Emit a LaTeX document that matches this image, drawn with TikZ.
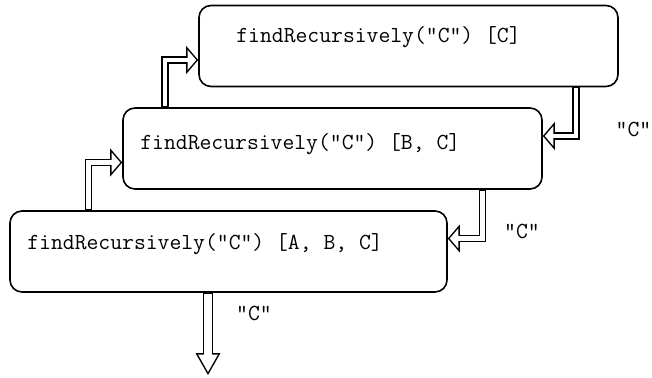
\documentclass[tikz,border=0pt]{standalone}
\usepackage{fontspec}
\usetikzlibrary{arrows.meta,positioning}

\begin{document}
\begin{tikzpicture}[x=1pt,y=-1pt,line join=miter]
	\tikzstyle{call}=[draw=black,line width=1.6pt,rounded corners=12pt,inner sep=0pt,minimum height=81pt]
	\tikzstyle{code}=[inner sep=0pt,anchor=base west,font=\ttfamily\fontsize{23}{27}\selectfont]
	\tikzstyle{ret}=[inner sep=0pt,font=\ttfamily\fontsize{23}{27}\selectfont]
	\tikzstyle{elbow}=[preaction={draw,black,line width=7.5pt,shorten <=0pt,shorten >=0pt,-{Triangle[length=12pt,width=28pt,line width=0pt]}},
	                   preaction={draw,white,line width=4.5pt,shorten <=1pt,shorten >=9pt,arrows=-},
	                   draw,white,line width=4.5pt,shorten <=1pt,shorten >=1.98pt,-{Triangle[length=8.52pt,width=19.88pt,line width=0pt]}]
	\tikzstyle{outarrow}=[preaction={draw,black,line width=10.5pt,shorten <=0pt,shorten >=0pt,-{Triangle[length=22pt,width=25pt,line width=0pt]}},
	                   preaction={draw,white,line width=7.5pt,shorten <=1pt,shorten >=15pt,arrows=-},
	                   draw,white,line width=7.5pt,shorten <=1pt,shorten >=3.04pt,-{Triangle[length=17.46pt,width=19.84pt,line width=0pt]}]

	\useasboundingbox (0,0) rectangle (652,377);

	\node[call,minimum width=419pt] (b3) at (408.5,46)    {};
	\node[call,minimum width=419pt] (b2) at (332.5,148.5) {};
	\node[call,minimum width=437pt] (b1) at (228.5,251.5) {};

	\node[code] (t3) at ([shift={(38,38)}]b3.north west) {findRecursively("C") [C]};
	\node[code] (t2) at ([shift={(18,42)}]b2.north west) {findRecursively("C") [B, C]};
	\node[code] (t1) at ([shift={(18,39)}]b1.north west) {findRecursively("C") [A, B, C]};

	% calls going up
	\draw[elbow] ([xshift=-140pt]b1.north)   |- ([yshift=-14pt]b2.west);
	\draw[elbow] ([xshift=-167.5pt]b2.north) |- ([yshift=-14pt]b3.west);

	% results coming back
	\draw[elbow] ([xshift=167.5pt]b3.south) |- ([yshift=12.5pt]b2.east);
	\draw[elbow] ([xshift=150pt]b2.south)   |- ([yshift=13pt]b1.east);
	\coordinate (out) at (208,375);
	\draw[outarrow] ([xshift=-20.5pt]b1.south) -- (out);

	\node[ret] (r1) at (633.5,129.5) {"C"};
	\node[ret] (r2) at (522,231.5)   {"C"};
	\node[ret] (r3) at (254,313.5)   {"C"};
\end{tikzpicture}
\end{document}
